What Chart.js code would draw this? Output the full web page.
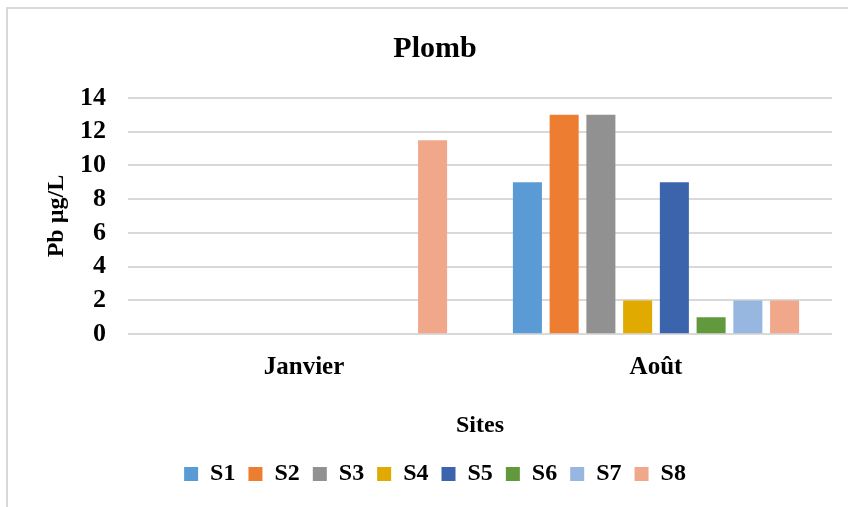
<!DOCTYPE html>
<html lang="fr">
<head>
<meta charset="utf-8">
<title>Plomb</title>
<script src="https://cdn.jsdelivr.net/npm/chart.js@4.4.1/dist/chart.umd.min.js"></script>
<style>
  html, body { margin: 0; padding: 0; background: #fff; }
  #cadre {
    position: absolute; left: 6px; top: 7px; width: 900px; height: 600px;
    border-left: 2px solid #d9d9d9; border-top: 2px solid #d9d9d9;
  }
  #zone { position: absolute; left: 0; top: 0; width: 848px; height: 507px; }
</style>
</head>
<body>
<div id="cadre"></div>
<div id="zone"><canvas id="grafica" width="848" height="507"></canvas></div>
<script>
  // Données : concentration en plomb par site et par mois
  const mois = ["Janvier", "Août"];
  const sites = ["S1", "S2", "S3", "S4", "S5", "S6", "S7", "S8"];
  const valeursJanvier = [0, 0, 0, 0, 0, 0, 0, 11.5];
  const valeursAout = [9, 13, 13, 2, 9, 1, 2, 2];
  const couleurs = ["#5b9bd5", "#ed7d31", "#919191", "#e1aa00", "#3c64ac", "#62993d", "#98b7e0", "#f1a78a"];
  const yMin = 0, yMax = 14, yPas = 2;

  const police = "'Liberation Serif', 'Times New Roman', serif";

  const datasets = sites.map((site, i) => ({
    label: site,
    data: [valeursJanvier[i], valeursAout[i]],
    backgroundColor: couleurs[i],
    borderWidth: 0,
    categoryPercentage: 0.835,
    barPercentage: 0.79,
  }));

  const ctx = document.getElementById("grafica").getContext("2d");
  new Chart(ctx, {
    type: "bar",
    data: { labels: mois, datasets },
    options: {
      responsive: false,
      animation: false,
      layout: { padding: { left: 38, right: 16, top: 0, bottom: 11 } },
      plugins: {
        title: {
          display: true,
          text: "Plomb",
          color: "#000",
          font: { family: police, size: 30, weight: "bold" },
          padding: { top: 31, bottom: 31 },
        },
        legend: {
          position: "bottom",
          labels: {
            color: "#000",
            font: { family: police, size: 24, weight: "bold" },
            boxWidth: 14,
            boxHeight: 14,
            padding: 13,
          },
        },
        tooltip: { enabled: false },
      },
      scales: {
        x: {
          grid: { display: false },
          border: { display: false },
          ticks: {
            color: "#000",
            padding: 10,
            font: { family: police, size: 25, weight: "bold" },
          },
          title: {
            display: true,
            text: "Sites",
            color: "#000",
            font: { family: police, size: 24, weight: "bold" },
            padding: { top: 19, bottom: 9 },
          },
        },
        y: {
          min: yMin,
          max: yMax,
          afterFit: (scale) => { scale.width = 90; },
          grid: { color: "#d9d9d9", lineWidth: 2, drawTicks: false },
          border: { display: false },
          ticks: {
            stepSize: yPas,
            autoSkip: false,
            color: "#000",
            padding: 22,
            font: { family: police, size: 26, weight: "bold" },
          },
          title: {
            display: true,
            text: "Pb µg/L",
            color: "#000",
            font: { family: police, size: 24, weight: "bold" },
            padding: { top: 4, bottom: 4 },
          },
        },
      },
    },
  });
</script>
</body>
</html>
